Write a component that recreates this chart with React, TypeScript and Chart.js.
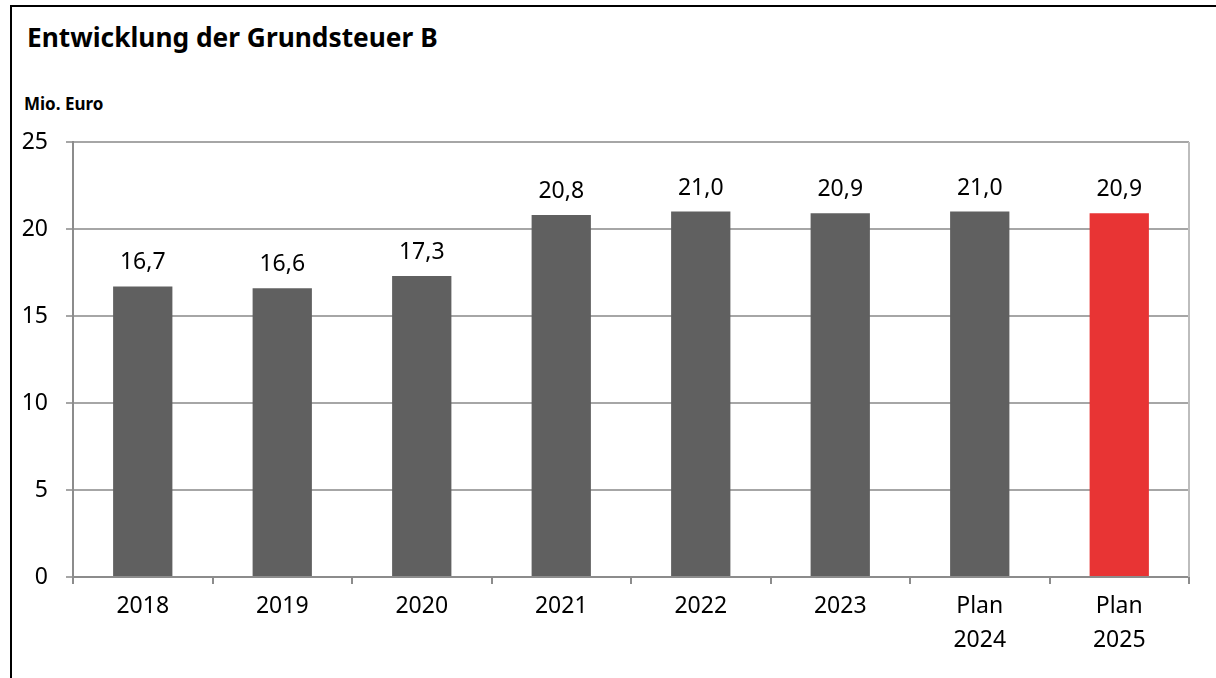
import React, { useEffect, useRef } from "react";
import { Chart, registerables } from "chart.js";

Chart.register(...registerables);

const categories: (string | string[])[] = ["2018", "2019", "2020", "2021", "2022", "2023", ["Plan", "2024"], ["Plan", "2025"]];
const values: number[] = [16.7, 16.6, 17.3, 20.8, 21.0, 20.9, 21.0, 20.9];
const barColors: string[] = ["#606060", "#606060", "#606060", "#606060", "#606060", "#606060", "#606060", "#E83434"];
const yTicks: number[] = [0, 5, 10, 15, 20, 25];

const FONT = "'Noto Sans', 'Open Sans', sans-serif";

const valueLabels = {
  id: "valueLabels",
  afterDatasetsDraw(chart: any) {
    const ctx = chart.ctx;
    const meta = chart.getDatasetMeta(0);
    ctx.save();
    ctx.font = `23px ${FONT}`;
    ctx.fillStyle = "#000";
    ctx.textAlign = "center";
    ctx.textBaseline = "alphabetic";
    meta.data.forEach((bar: any, i: number) => {
      const txt = values[i].toFixed(1).replace(".", ",");
      ctx.fillText(txt, bar.x, bar.y - 17);
    });
    ctx.restore();
  },
};

const rightBorder = {
  id: "rightBorder",
  afterDraw(chart: any) {
    const { ctx, chartArea } = chart;
    ctx.save();
    ctx.strokeStyle = "#bdbdbd";
    ctx.lineWidth = 2;
    ctx.beginPath();
    ctx.moveTo(chartArea.right, chartArea.top);
    ctx.lineTo(chartArea.right, chartArea.bottom);
    ctx.stroke();
    ctx.restore();
  },
};

export default function App() {
  const ref = useRef<HTMLCanvasElement>(null);
  useEffect(() => {
    if (!ref.current) return;
    const chart = new Chart(ref.current, {
      type: "bar",
      data: {
        labels: categories,
        datasets: [
          {
            data: values,
            backgroundColor: barColors,
            barPercentage: 0.425,
            categoryPercentage: 1,
          },
        ],
      },
      options: {
        animation: false,
        responsive: false,
        maintainAspectRatio: false,
        layout: { padding: { left: 13, right: 27, top: 142, bottom: 0 } },
        plugins: { legend: { display: false }, tooltip: { enabled: false }, title: { display: false } },
        scales: {
          x: {
            offset: true,
            grid: {
              offset: true,
              drawOnChartArea: false,
              drawTicks: true,
              tickLength: 7,
              color: "#8c8c8c",
              lineWidth: 2,
            },
            border: { color: "#8c8c8c", width: 2 },
            ticks: {
              color: "#000",
              font: { family: FONT, size: 23, lineHeight: 1.48 },
              padding: 5,
              maxRotation: 0,
              autoSkip: false,
            },
            afterFit: (s: any) => {
              s.height = 101;
            },
          },
          y: {
            min: 0,
            max: 25,
            afterBuildTicks: (s: any) => {
              s.ticks = yTicks.map((v) => ({ value: v }));
            },
            grid: {
              color: "#a6a6a6",
              lineWidth: 2,
              drawTicks: true,
              tickLength: 7,
            },
            border: { color: "#8c8c8c", width: 2 },
            ticks: {
              color: "#000",
              font: { family: FONT, size: 23 },
              padding: 18,
            },
            afterFit: (s: any) => {
              s.width = 60;
            },
          },
        },
      },
      plugins: [valueLabels, rightBorder],
    });
    return () => chart.destroy();
  }, []);

  return (
    <div style={{ position: "fixed", left: 0, top: 0, width: 1216, height: 678, background: "#fff", overflow: "hidden" }}>
      <div style={{ position: "absolute", left: 10, top: 5, width: 2, height: 673, background: "#000" }} />
      <div style={{ position: "absolute", left: 10, top: 5, width: 1206, height: 2, background: "#000" }} />
      <div
        style={{
          position: "absolute",
          left: 27,
          top: 21,
          fontFamily: FONT,
          fontWeight: 700,
          fontSize: 26.3,
          lineHeight: "32px",
          color: "#000",
          whiteSpace: "nowrap",
        }}
      >
        Entwicklung der Grundsteuer B
      </div>
      <div
        style={{
          position: "absolute",
          left: 24,
          top: 93,
          fontFamily: FONT,
          fontWeight: 700,
          fontSize: 17,
          lineHeight: "22px",
          color: "#000",
          whiteSpace: "nowrap",
        }}
      >
        Mio. Euro
      </div>
      <canvas ref={ref} width={1216} height={678} style={{ position: "absolute", left: 0, top: 0 }} />
    </div>
  );
}
